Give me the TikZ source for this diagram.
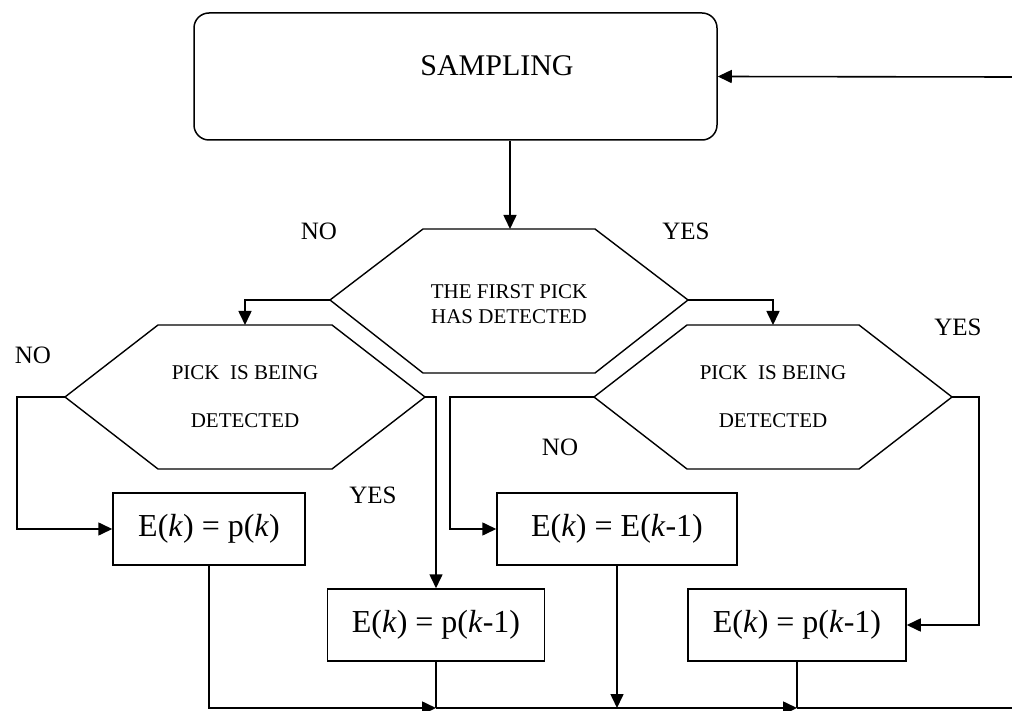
\documentclass[tikz,border=0pt]{standalone}
\usepackage{fontspec}
\setmainfont{Liberation Serif}
\usetikzlibrary{arrows.meta}
\begin{document}
\begin{tikzpicture}[x=1pt,y=-1pt,line width=1.6pt,
  arr/.style={-{Triangle[length=14pt,width=13pt]}},
  hexline/.style={line width=1.4pt},
  procbox/.style={draw,line width=1.5pt,inner sep=0pt,font=\fontsize{32}{36}\selectfont},
  lbl/.style={font=\fontsize{25}{28}\selectfont,inner sep=0pt},
  hextext/.style={font=\fontsize{21}{24}\selectfont,inner sep=0pt,align=center}]
\useasboundingbox (0,0) rectangle (1012,711);
% start
\node[draw,rounded corners=15pt,line width=1.5pt,minimum width=523pt,minimum height=127pt,inner sep=0pt] (s) at (455.5,76.5) {};
\node[font=\fontsize{30}{34}\selectfont,inner sep=0pt] (stxt) at (497,66) {SAMPLING};
% hexagon 1
\coordinate (h1l) at (330,300);
\coordinate (h1r) at (688,300);
\coordinate (h1t) at (510,229);
\draw[hexline] (h1l) -- (423,229) -- (595,229) -- (h1r) -- (595,373) -- (423,373) -- cycle;
\node[hextext] (h1a) at (509,292) {THE FIRST PICK};
\node[hextext] (h1b) at (509,317) {HAS DETECTED};
% hexagon 2
\coordinate (h2l) at (65,397);
\coordinate (h2r) at (425,397);
\coordinate (h2t) at (245,325);
\draw[hexline] (h2l) -- (158,325) -- (332,325) -- (h2r) -- (332,469) -- (158,469) -- cycle;
\node[hextext] (h2a) at (245,373) {PICK\ \ IS BEING};
\node[hextext] (h2b) at (245,421) {DETECTED};
% hexagon 3
\coordinate (h3l) at (594,397);
\coordinate (h3r) at (952,397);
\coordinate (h3t) at (773,325);
\draw[hexline] (h3l) -- (687,325) -- (859,325) -- (h3r) -- (859,469) -- (687,469) -- cycle;
\node[hextext] (h3a) at (773,373) {PICK\ \ IS BEING};
\node[hextext] (h3b) at (773,421) {DETECTED};
% process boxes
\node[procbox,minimum width=192pt,minimum height=72pt] (b1) at (209,529) {E(\textit{k}) = p(\textit{k})};
\node[procbox,minimum width=240pt,minimum height=72pt] (b3) at (617,529) {E(\textit{k}) = E(\textit{k}-1)};
\node[procbox,minimum width=217pt,minimum height=72pt] (b2) at (436,625) {E(\textit{k}) = p(\textit{k}-1)};
\node[procbox,minimum width=218pt,minimum height=72pt] (b4) at (797,625) {E(\textit{k}) = p(\textit{k}-1)};
% labels
\node[lbl] (l1) at (319,231) {NO};
\node[lbl] (l2) at (686,231) {YES};
\node[lbl] (l3) at (33,355) {NO};
\node[lbl] (l4) at (958,327) {YES};
\node[lbl] (l5) at (373,495) {YES};
\node[lbl] (l6) at (560,447) {NO};
% helper coordinates
\coordinate (fb) at (1012,77);
\coordinate (c2) at (17,397);
\coordinate (c3) at (450,397);
\coordinate (c4) at (979,397);
\coordinate (j2) at (436,708);
\coordinate (j3) at (617,708);
\coordinate (j4) at (797,708);
\coordinate (jr) at (1012,708);
% connectors
\draw[arr] (fb) -- (s.east);
\draw[arr] (h1t |- s.south) -- (h1t);
\draw[arr] (h1l) -| (h2t);
\draw[arr] (h1r) -| (h3t);
\draw[arr] (h2l) -- (c2) |- (b1.west);
\draw[arr] (h2r) -| (b2.north);
\draw[arr] (h3l) -- (c3) |- (b3.west);
\draw[arr] (h3r) -- (c4) |- (b4.east);
\draw[arr] (b1.south) |- (j2);
\draw (b2.south) -- (j2);
\draw[arr] (j2) -- (j4);
\draw (b4.south) -- (j4);
\draw (j4) -- (jr);
\draw[arr] (b3.south) -- (j3);
\end{tikzpicture}
\end{document}
